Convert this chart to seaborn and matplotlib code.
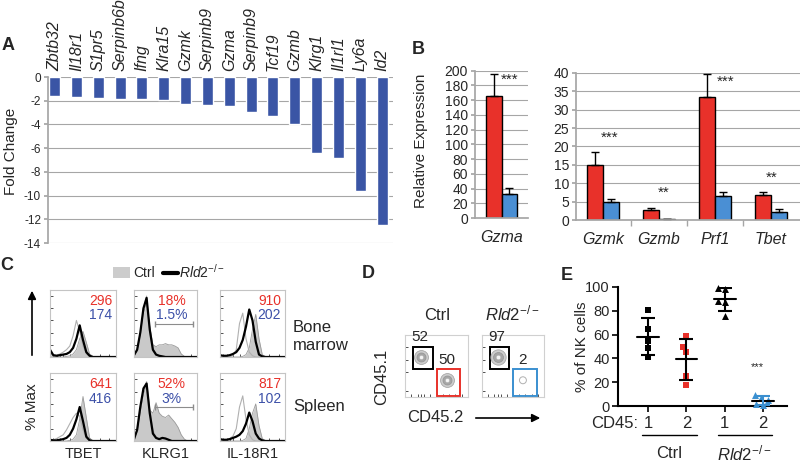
import numpy as np
import pandas as pd
import matplotlib
matplotlib.use("Agg")
import matplotlib.pyplot as plt
import seaborn as sns
from matplotlib.patches import Rectangle, FancyArrowPatch
from matplotlib.lines import Line2D

# ---------------- data ----------------
# A: fold change Rld2-/- vs ctrl
genes_a = ["Zbtb32", "Il18r1", "S1pr5", "Serpinb6b", "Ifng", "Klra15", "Gzmk", "Serpinb9",
           "Gzma", "Serpinb9", "Tcf19", "Gzmb", "Klrg1", "Il1rl1", "Ly6a", "Id2"]
fold_change = [-1.6, -1.65, -1.75, -1.85, -1.85, -1.9, -2.3, -2.35,
               -2.45, -2.95, -3.25, -4.0, -6.45, -6.85, -9.65, -12.45]

# B: relative expression (Ctrl red, Rld2 blue)
genes_b1 = ["Gzma"]
ctrl_b1, ctrl_b1_err = [165.0], [30.0]
rld2_b1, rld2_b1_err = [33.0], [8.0]
sig_b1, sig_b1_y = ["***"], [187]
genes_b2 = ["Gzmk", "Gzmb", "Prf1", "Tbet"]
ctrl_b2 = [15.0, 2.8, 33.5, 6.8]
ctrl_b2_err = [3.6, 0.6, 6.3, 0.9]
rld2_b2 = [4.8, 0.2, 6.4, 2.3]
rld2_b2_err = [0.9, 0.15, 1.1, 0.7]
sig_b2 = ["***", "**", "***", "**"]
sig_b2_y = [22.5, 7.3, 37.5, 11.4]

# C: flow histograms (% max per channel bin)
chan = [0.0, 0.05, 0.1, 0.15, 0.2, 0.25, 0.3, 0.35, 0.4, 0.45, 0.5,
        0.55, 0.6, 0.65, 0.7, 0.75, 0.8, 0.85, 0.9, 0.95, 1.0]
tbet_bm_ctrl = [0.02, 0.01, 0, 0, 0, 0.01, 0.02, 0.05, 0.12, 0.3, 0.42, 0.24, 0.05, 0.01, 0, 0, 0, 0, 0, 0, 0]
tbet_bm_rld2 = [0.12, 0.03, 0.02, 0.03, 0.04, 0.05, 0.08, 0.15, 0.3, 0.52, 0.28, 0.08, 0.02, 0, 0, 0, 0, 0, 0, 0, 0]
tbet_bm_iso = [0.05, 0.03, 0.03, 0.05, 0.08, 0.12, 0.18, 0.35, 0.6, 0.42, 0.18, 0.05, 0.01, 0, 0, 0, 0, 0, 0, 0, 0]
klrg1_bm_ctrl = [0.02, 0.1, 0.35, 0.72, 0.9, 0.5, 0.2, 0.17, 0.2, 0.2, 0.22, 0.2, 0.2, 0.18, 0.15, 0.05, 0.01, 0, 0, 0, 0]
klrg1_bm_rld2 = [0.03, 0.12, 0.4, 0.8, 0.97, 0.45, 0.12, 0.04, 0.02, 0.01, 0, 0, 0, 0, 0, 0, 0, 0, 0, 0, 0]
klrg1_bm_iso = [0.02, 0.1, 0.38, 0.78, 1.0, 0.42, 0.1, 0.03, 0.01, 0, 0, 0, 0, 0, 0, 0, 0, 0, 0, 0, 0]
il18r1_bm_ctrl = [0, 0, 0, 0, 0, 0, 0, 0.01, 0.04, 0.15, 0.45, 0.7, 0.3, 0.04, 0, 0, 0, 0, 0, 0, 0]
il18r1_bm_rld2 = [0.03, 0.02, 0.02, 0.03, 0.05, 0.08, 0.15, 0.28, 0.5, 0.78, 0.6, 0.25, 0.04, 0.01, 0, 0, 0, 0, 0, 0, 0]
il18r1_bm_iso = [0, 0, 0, 0, 0.03, 0.12, 0.55, 0.72, 0.3, 0.08, 0.02, 0, 0, 0, 0, 0, 0, 0, 0, 0, 0]
tbet_sp_ctrl = [0, 0, 0, 0, 0, 0, 0.01, 0.03, 0.1, 0.35, 0.72, 0.38, 0.05, 0, 0, 0, 0, 0, 0, 0, 0]
tbet_sp_rld2 = [0.02, 0.01, 0.01, 0.02, 0.03, 0.05, 0.1, 0.2, 0.35, 0.55, 0.32, 0.07, 0.01, 0, 0, 0, 0, 0, 0, 0, 0]
tbet_sp_iso = [0.01, 0.02, 0.04, 0.07, 0.1, 0.18, 0.28, 0.38, 0.45, 0.4, 0.18, 0.04, 0.01, 0, 0, 0, 0, 0, 0, 0, 0]
klrg1_sp_ctrl = [0.03, 0.15, 0.45, 0.75, 0.9, 0.5, 0.45, 0.62, 0.45, 0.4, 0.38, 0.42, 0.36, 0.3, 0.22, 0.1, 0.03, 0, 0, 0, 0]
klrg1_sp_rld2 = [0.03, 0.18, 0.55, 0.85, 0.93, 0.45, 0.12, 0.05, 0.03, 0.05, 0.04, 0.02, 0, 0, 0, 0, 0, 0, 0, 0, 0]
klrg1_sp_iso = [0.03, 0.15, 0.5, 0.8, 0.96, 0.5, 0.18, 0.06, 0.02, 0, 0, 0, 0, 0, 0, 0, 0, 0, 0, 0, 0]
il18r1_sp_ctrl = [0, 0, 0, 0, 0, 0, 0, 0.01, 0.04, 0.2, 0.45, 0.6, 0.25, 0.04, 0, 0, 0, 0, 0, 0, 0]
il18r1_sp_rld2 = [0.03, 0.02, 0.02, 0.03, 0.05, 0.07, 0.1, 0.16, 0.28, 0.46, 0.32, 0.12, 0.04, 0.01, 0, 0, 0, 0, 0, 0, 0]
il18r1_sp_iso = [0, 0.01, 0.02, 0.04, 0.08, 0.2, 0.55, 0.73, 0.35, 0.1, 0.02, 0, 0, 0, 0, 0, 0, 0, 0, 0, 0]
hist_markers = ["TBET", "KLRG1", "IL-18R1"]
hist_tissues = ["Bone\nmarrow", "Spleen"]
mfi_ctrl = ["296", "18%", "910", "641", "52%", "817"]
mfi_rld2 = ["174", "1.5%", "202", "416", "3%", "102"]

# D: CD45.1 / CD45.2 chimera populations (x, y, relative size)
d_ctrl_x, d_ctrl_y, d_ctrl_size = [0.25, 0.67], [0.65, 0.27], [1.0, 1.0]
d_rld2_x, d_rld2_y, d_rld2_size = [0.26, 0.66], [0.65, 0.27], [1.1, 0.0]
d_ctrl_pct = ["52", "50"]
d_rld2_pct = ["97", "2"]

# E: % of NK cells
e_ctrl_1 = [81, 65, 55, 49, 41]
e_ctrl_2 = [59, 50, 45, 25, 18]
e_rld2_1 = [99, 98, 88, 87, 76]
e_rld2_2 = [9.5, 6.5, 5, 1.5, 0.5]

# ---------------- style ----------------
W, H = 800, 462
RED = "#e8312a"
BLUE_BAR = "#4a8fd4"
BLUE_A = "#3a55a5"
BLUE_TXT = "#3c50a8"
GRID = "#a6a6a6"

sns.set_theme(style="white")
plt.rcParams["font.family"] = ["Liberation Sans", "DejaVu Sans"]
plt.rcParams["axes.unicode_minus"] = False
plt.rcParams["mathtext.fontset"] = "custom"
plt.rcParams["mathtext.rm"] = "Liberation Sans"
plt.rcParams["mathtext.it"] = "Liberation Sans:italic"
RLD2 = r"$\mathit{Rld2}^{-/-}$"

fig = plt.figure(figsize=(8, 4.62), dpi=100)


def box(x0, y0, x1, y1):
    # axes placed in pixel coords of the 800x462 canvas
    return fig.add_axes([x0 / W, 1 - y1 / H, (x1 - x0) / W, (y1 - y0) / H])


def ftext(x, y, s, **kw):
    fig.text(x / W, 1 - y / H, s, **kw)


def fpt(x, y):
    return (x / W, 1 - y / H)


# ---------------- A ----------------
axA = box(48, 77, 393, 243)
sns.barplot(x=list(range(len(genes_a))), y=fold_change, color=BLUE_A, width=0.5,
            saturation=1, ax=axA)
axA.set_ylim(-14, 0)
axA.set_xlim(-0.3, len(genes_a) - 0.5)
axA.set_yticks(range(-14, 1, 2))
axA.yaxis.grid(True, color=GRID, lw=0.8)
axA.set_axisbelow(True)
axA.xaxis.tick_top()
axA.set_xticks(range(len(genes_a)))
axA.set_xticklabels(genes_a, rotation=90, fontstyle="italic", fontsize=11.5)
axA.tick_params(axis="x", length=0, pad=4)
axA.tick_params(axis="y", left=True, length=3, color=GRID, labelsize=8.5, pad=2)
for s in ["top", "right", "bottom"]:
    axA.spines[s].set_visible(False)
axA.spines["left"].set_color(GRID)
axA.set_ylabel("Fold Change", fontsize=11)
axA.yaxis.set_label_coords(-0.088, 0.55)
axA.set_xlabel("")


# ---------------- B ----------------
def qpcr_bars(ax, genes, ctrl, ctrl_err, rld2, rld2_err):
    df = pd.DataFrame({
        "gene": genes + genes,
        "group": ["Ctrl"] * len(genes) + ["Rld2"] * len(genes),
        "value": ctrl + rld2,
        "err": ctrl_err + rld2_err,
    })
    sns.barplot(data=df, x="gene", y="value", hue="group", palette=[RED, BLUE_BAR],
                width=0.58, saturation=1, edgecolor="black", linewidth=1,
                errorbar=None, legend=False, ax=ax)
    vals = df["value"].to_numpy()
    for p in ax.patches:
        h = p.get_height()
        i = int(np.argmin(np.abs(vals - h)))
        xc = p.get_x() + p.get_width() / 2
        ax.errorbar(xc, h, yerr=[[0], [df["err"].iloc[i]]], fmt="none", ecolor="black",
                    elinewidth=1, capsize=3, capthick=1)
    ax.yaxis.grid(True, color=GRID, lw=0.8)
    ax.set_axisbelow(True)
    for s in ["top", "right"]:
        ax.spines[s].set_visible(False)
    for s in ["left", "bottom"]:
        ax.spines[s].set_color(GRID)
    ax.tick_params(axis="y", left=True, length=3, color=GRID, labelsize=10, pad=2)
    ax.tick_params(axis="x", length=0, labelsize=11.5, pad=9)
    for lab in ax.get_xticklabels():
        lab.set_fontstyle("italic")
    ax.set_xlabel("")
    ax.set_ylabel("")


axB1 = box(475, 70.7, 528, 218)
qpcr_bars(axB1, genes_b1, ctrl_b1, ctrl_b1_err, rld2_b1, rld2_b1_err)
axB1.set_ylim(0, 200)
axB1.set_yticks(range(0, 201, 20))
axB1.set_xlim(-0.5, 0.5)
for i, (s, y) in enumerate(zip(sig_b1, sig_b1_y)):
    axB1.text(i + 0.16, y, s, ha="center", va="center", fontsize=11)

axB2 = box(576, 73, 800, 220)
qpcr_bars(axB2, genes_b2, ctrl_b2, ctrl_b2_err, rld2_b2, rld2_b2_err)
axB2.set_ylim(0, 40)
axB2.set_yticks(range(0, 41, 5))
axB2.set_xlim(-0.48, 3.52)
axB2.set_xticks([0.5, 1.5, 2.5], minor=True)
axB2.tick_params(axis="x", which="minor", bottom=True, length=4, color=GRID)
for i, (s, y, dx) in enumerate(zip(sig_b2, sig_b2_y, [0.12, 0.09, 0.2, 0.02])):
    axB2.text(i + dx, y, s, ha="center", va="center", fontsize=11)

ftext(421, 141, "Relative Expression", rotation=90, ha="center", va="center", fontsize=11)

# ---------------- C ----------------
hist_sets = [
    (tbet_bm_ctrl, tbet_bm_rld2, tbet_bm_iso),
    (klrg1_bm_ctrl, klrg1_bm_rld2, klrg1_bm_iso),
    (il18r1_bm_ctrl, il18r1_bm_rld2, il18r1_bm_iso),
    (tbet_sp_ctrl, tbet_sp_rld2, tbet_sp_iso),
    (klrg1_sp_ctrl, klrg1_sp_rld2, klrg1_sp_iso),
    (il18r1_sp_ctrl, il18r1_sp_rld2, il18r1_sp_iso),
]
col_x = [(50, 116), (134, 197), (220, 285)]
row_y = [(290, 357), (373, 441)]
for k, (ctrl, rld2, iso) in enumerate(hist_sets):
    r, c = divmod(k, 3)
    ax = box(col_x[c][0], row_y[r][0], col_x[c][1], row_y[r][1])
    ax.fill_between(chan, ctrl, color="#c9c9c9", lw=0)
    ax.plot(chan, ctrl, color="#9a9a9a", lw=0.6)
    ax.plot(chan, iso, color="#b0b0b0", lw=0.8)
    ax.plot(chan, rld2, color="black", lw=1.6)
    ax.set_xlim(0, 1)
    ax.set_ylim(0, 1.1)
    ax.set_xticks([0.05, 0.1, 0.15, 0.2, 0.3, 0.45, 0.6, 0.75, 0.9])
    ax.set_yticks([0.2, 0.4, 0.6, 0.8, 1.0])
    ax.tick_params(direction="in", length=2, width=0.6, color="#333333",
                   labelleft=False, labelbottom=False, left=True, bottom=True)
    for s in ax.spines.values():
        s.set_color("#c4c4c4")
        s.set_linewidth(0.8)
    if c == 1:
        ax.text(0.6, 0.84, mfi_ctrl[k], color=RED, ha="center", va="center",
                fontsize=10, transform=ax.transAxes)
        ax.text(0.6, 0.62, mfi_rld2[k], color=BLUE_TXT, ha="center", va="center",
                fontsize=10, transform=ax.transAxes)
        ax.plot([0.33, 0.94], [0.5, 0.5], color="#8c8c8c", lw=0.8, marker="|", ms=4,
                transform=ax.transAxes)
    else:
        ax.text(0.94, 0.84, mfi_ctrl[k], color=RED, ha="right", va="center",
                fontsize=10, transform=ax.transAxes)
        ax.text(0.94, 0.62, mfi_rld2[k], color=BLUE_TXT, ha="right", va="center",
                fontsize=10, transform=ax.transAxes)

for c, name in enumerate(hist_markers):
    ftext((col_x[c][0] + col_x[c][1]) / 2, 454, name, ha="center", va="center", fontsize=10.5)
ftext(293, 336, hist_tissues[0], ha="left", va="center", fontsize=12, linespacing=1.25)
ftext(293, 407, hist_tissues[1], ha="left", va="center", fontsize=12)

# legend + y arrow
fig.add_artist(Rectangle(fpt(113, 278), 17 / W, 11 / H, transform=fig.transFigure,
                         facecolor="#cccccc", edgecolor="none"))
ftext(133, 273, "Ctrl", ha="left", va="center", fontsize=10)
fig.add_artist(Line2D([163 / W, 178 / W], [1 - 273 / H] * 2, transform=fig.transFigure,
                      color="black", lw=3))
ftext(179, 272, RLD2, ha="left", va="center", fontsize=10)
fig.add_artist(FancyArrowPatch(fpt(32, 358), fpt(32, 288), transform=fig.transFigure,
                               arrowstyle="-|>", mutation_scale=12, color="black", lw=1.2))
ftext(32, 407, "% Max", rotation=90, ha="center", va="center", fontsize=11)


# ---------------- D ----------------
def dot_panel(ax, xs, ys, sizes, pcts, gate_colors):
    for x, y, sz in zip(xs, ys, sizes):
        if sz > 0.2:
            ax.scatter([x], [y], s=(10 * sz) ** 2, facecolor="#cdcdcd", edgecolor="#a8a8a8", lw=0.6, zorder=2)
            ax.scatter([x], [y], s=(6.5 * sz) ** 2, facecolor="#a6a6a6", edgecolor="#949494", lw=0.5, zorder=3)
            ax.scatter([x], [y], s=(3 * sz) ** 2, facecolor="#f4f4f4", edgecolor="#b0b0b0", lw=0.4, zorder=4)
        else:
            ax.scatter([x], [y], s=25, facecolor="none", edgecolor="#b0b0b0", lw=0.7, zorder=2)
    ax.add_patch(Rectangle((0.13, 0.45), 0.31, 0.36, fill=False, edgecolor=gate_colors[0], lw=1.4))
    ax.add_patch(Rectangle((0.5, 0.02), 0.38, 0.43, fill=False, edgecolor=gate_colors[1], lw=1.4))
    ax.text(0.24, 0.96, pcts[0], ha="center", va="center", fontsize=11)
    ax.text(0.66, 0.6, pcts[1], ha="center", va="center", fontsize=11)
    ax.set_xlim(0, 1)
    ax.set_ylim(0, 1)
    ax.set_xticks([0.1, 0.2, 0.25, 0.3, 0.4, 0.5, 0.6, 0.7, 0.8, 0.9])
    ax.set_yticks([0.1, 0.4, 0.6, 0.8])
    ax.tick_params(direction="in", length=2, width=0.6, color="#333333",
                   labelleft=False, labelbottom=False, left=True, bottom=True)
    for s in ax.spines.values():
        s.set_color("#d0d0d0")
        s.set_linewidth(0.8)


axD1 = box(405, 335, 468, 397)
dot_panel(axD1, d_ctrl_x, d_ctrl_y, d_ctrl_size, d_ctrl_pct, ["black", RED])
axD2 = box(482, 335, 544, 397)
dot_panel(axD2, d_rld2_x, d_rld2_y, d_rld2_size, d_rld2_pct, ["black", "#3a8fd0"])
ftext(437, 315, "Ctrl", ha="center", va="center", fontsize=12)
ftext(512, 313, RLD2, ha="center", va="center", fontsize=12)
ftext(382, 377, "CD45.1", rotation=90, ha="center", va="center", fontsize=12)
ftext(435, 418, "CD45.2", ha="center", va="center", fontsize=12)
fig.add_artist(FancyArrowPatch(fpt(473, 418), fpt(543, 418), transform=fig.transFigure,
                               arrowstyle="-|>", mutation_scale=12, color="black", lw=1.2))

# ---------------- E ----------------
axE = box(618, 287, 787, 406)
e_cats = ["Ctrl 1", "Ctrl 2", "Rld2 1", "Rld2 2"]
e_groups = [e_ctrl_1, e_ctrl_2, e_rld2_1, e_rld2_2]
e_markers = ["s", "s", "^", "^"]
e_colors = ["black", RED, "black", "#3a8fd0"]
for cat, vals, mk, col in zip(e_cats, e_groups, e_markers, e_colors):
    sns.swarmplot(x=[cat] * len(vals), y=vals, order=e_cats, marker=mk, color=col,
                  size=5, ax=axE, clip_on=False, zorder=3)
for i, vals in enumerate(e_groups):
    m = np.mean(vals)
    sd = np.std(vals, ddof=1)
    axE.plot([i - 0.28, i + 0.28], [m, m], color="black", lw=1.5, zorder=4)
    axE.errorbar(i, m, yerr=sd, fmt="none", ecolor="black" if i < 3 else "#3a8fd0",
                 elinewidth=1.5, capsize=5, capthick=1.5, zorder=4)
axE.set_ylim(0, 100)
axE.set_yticks(range(0, 101, 20))
axE.set_xlim(-0.78, 3.62)
axE.set_xticks(range(4))
axE.set_xticklabels(["1", "2", "1", "2"], fontsize=12)
axE.tick_params(axis="x", bottom=True, length=4, width=1.2, color="black", pad=3)
axE.tick_params(axis="y", left=True, length=4, width=1.2, color="black", labelsize=10.5, pad=2)
for s in ["top", "right"]:
    axE.spines[s].set_visible(False)
for s in ["left", "bottom"]:
    axE.spines[s].set_color("black")
    axE.spines[s].set_linewidth(1.5)
axE.set_ylabel("% of NK cells", fontsize=11)
axE.yaxis.set_label_coords(-0.17, 0.5)
axE.set_xlabel("")
axE.text(2.86, 33, "***", ha="center", va="center", fontsize=8)
tr = axE.get_xaxis_transform()
for x0, x1, lab in [(-0.15, 1.27, "Ctrl"), (1.82, 3.22, RLD2)]:
    axE.add_line(Line2D([x0, x1], [-0.244, -0.244], transform=tr, color="black", lw=1, clip_on=False))
    axE.text((x0 + x1) / 2, -0.40, lab, transform=tr, ha="center", va="center", fontsize=12)
ftext(615, 424, "CD45:", ha="center", va="center", fontsize=12)

# ---------------- panel letters ----------------
for lab, x, y in [("A", 8, 46), ("B", 418, 50), ("C", 7, 265), ("D", 368, 273), ("E", 567, 275)]:
    ftext(x, y, lab, ha="center", va="center", fontsize=13, fontweight="bold")

fig.savefig("out.png", dpi=100, facecolor="white")
